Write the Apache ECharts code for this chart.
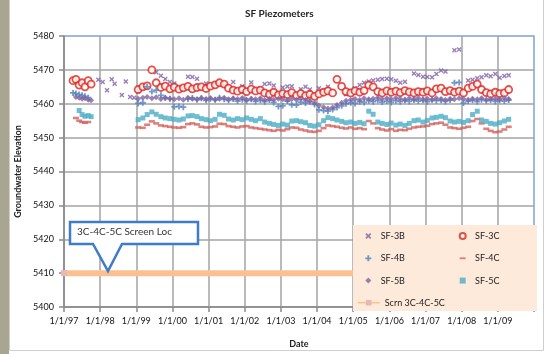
<!DOCTYPE html>
<html>
<head>
<meta charset="utf-8">
<script src="https://cdn.jsdelivr.net/npm/echarts@6/dist/echarts.min.js"></script>
<style>
  html, body { margin: 0; padding: 0; background: #fff; }
  #chart { width: 549px; height: 354px; }
</style>
</head>
<body>
<div id="chart"></div>
<script>
// Observation dates as decimal years (shared by all piezometers; null = no reading)
const obsYear = [
  1997.25, 1997.33, 1997.42, 1997.50, 1997.58, 1997.67, 1997.75,
  1997.95, 1998.07, 1998.19, 1998.32, 1998.40, 1998.60, 1998.71, 1998.83, 1998.94,
  1999.05, 1999.18, 1999.30, 1999.43, 1999.55, 1999.68, 1999.80, 1999.93,
  2000.05, 2000.18, 2000.30, 2000.43, 2000.55, 2000.68, 2000.80, 2000.93,
  2001.05, 2001.18, 2001.30, 2001.43, 2001.55, 2001.68, 2001.80, 2001.93,
  2002.05, 2002.18, 2002.30, 2002.43, 2002.55, 2002.68, 2002.80, 2002.93,
  2003.05, 2003.18, 2003.30, 2003.43, 2003.55, 2003.68, 2003.80, 2003.93,
  2004.05, 2004.18, 2004.30, 2004.43, 2004.55, 2004.68, 2004.80, 2004.93,
  2005.05, 2005.18, 2005.30, 2005.43, 2005.55, 2005.68, 2005.80, 2005.93,
  2006.05, 2006.18, 2006.30, 2006.43, 2006.55, 2006.68, 2006.80, 2006.93,
  2007.05, 2007.18, 2007.30, 2007.43, 2007.55, 2007.68, 2007.80, 2007.93,
  2008.05, 2008.18, 2008.30, 2008.43, 2008.55, 2008.68, 2008.80, 2008.93,
  2009.05, 2009.18, 2009.30
];

const sf3B = [
  null, null, null, null, null, null, null,
  5467.1, 5466.4, 5464.0, 5467.2, 5465.9, 5462.6, 5466.6, 5462.0, 5461.8,
  5463.8, null, null, null, 5469.3, 5468.3, 5467.3, 5466.4,
  5466.0, null, null, 5468.0, 5467.9, 5467.4, null, 5466.0,
  null, 5466.0, null, 5465.5, null, 5466.4, null, 5465.2,
  null, 5466.3, null, 5464.5, 5465.8, 5466.0, 5465.4, null,
  5464.8, 5465.1, 5465.2, null, 5464.3, 5465.0, 5464.2, null,
  5464.6, null, 5465.0, null, null, null, 5462.8, 5463.6,
  5464.6, 5465.5, 5466.2, 5466.6, 5466.9, 5467.1, 5467.3, 5467.4,
  5467.2, 5466.8, 5466.2, 5466.5, null, 5468.9, 5468.5, 5468.0,
  5467.9, 5467.8, 5468.8, 5469.8, 5469.5, null, 5475.8, 5476.0,
  null, 5466.9, 5467.1, 5467.5, 5467.8, 5468.4, 5468.1, 5468.8,
  5467.7, 5468.2, 5468.4
];

const sf3C = [
  5466.8, 5467.2, 5465.5, 5466.2, 5465.0, 5466.8, 5465.8,
  null, null, null, null, null, null, null, null, null,
  5464.2, 5465.0, 5465.3, 5470.0, 5466.2, 5464.8, 5465.2, 5464.4,
  5464.9, 5464.3, 5464.7, 5465.1, 5464.4, 5464.8, 5465.0, 5464.5,
  5465.2, 5465.6, 5466.2, 5465.8, 5464.6, 5464.0, 5463.7, 5464.2,
  5463.6, 5464.3, 5463.8, 5464.0, 5463.2, 5462.8, 5463.4, 5462.6,
  5463.0, 5462.7, 5463.3, 5462.5, 5463.0, 5462.4, 5462.8, 5462.2,
  5462.9, 5463.4, 5463.8, 5463.2, 5467.2, 5465.1, 5463.6, 5463.2,
  5463.8, 5463.4, 5463.9, 5465.5, 5465.0, 5463.6, 5463.2, 5463.8,
  5463.4, 5463.7, 5463.3, 5463.9, 5463.5, 5463.2, 5463.6, 5463.4,
  5463.8, 5463.2, 5464.4, 5464.6, 5463.6, 5463.9, 5463.4, 5463.7,
  5463.2, 5464.6, 5465.1, 5465.8, 5464.2, 5463.3, 5462.9, 5463.4,
  5463.0, 5463.2, 5464.2
];

const sf4B = [
  5463.2, 5463.0, 5462.7, 5462.5, 5462.2, 5461.8, null,
  null, null, null, null, null, null, null, null, null,
  5460.1, 5460.3, 5465.0, 5463.6, 5464.0, 5462.5, 5461.8, 5461.5,
  5459.1, 5459.2, 5459.0, 5461.4, 5461.7, 5461.2, 5461.6, 5461.0,
  5461.5, 5461.2, 5461.8, 5461.3, 5461.0, 5461.4, 5460.8, 5461.2,
  5460.9, 5461.3, 5460.7, 5461.0, 5460.6, 5461.1, 5460.4, 5459.2,
  5459.4, 5460.8, 5459.7, 5459.6, 5460.5, 5460.2, 5460.6, 5459.8,
  5458.2, 5458.0, 5457.8, 5458.3, 5458.9, 5459.4, 5460.0, 5460.3,
  5460.1, 5460.6, 5460.4, 5460.9, 5460.6, 5461.0, 5460.5, 5460.8,
  5460.4, 5460.9, 5460.6, 5461.0, 5460.7, 5461.1, 5460.8, 5461.0,
  5460.6, 5461.2, 5460.9, 5461.0, 5460.7, 5461.1, 5466.2, 5466.3,
  5460.2, 5460.8, 5461.0, 5460.6, 5461.2, 5460.9, 5461.1, 5460.7,
  5461.0, 5460.8, 5461.1
];

const sf4C = [
  null, 5455.8, 5455.0, 5454.6, 5454.4, 5454.6, null,
  null, null, null, null, null, null, null, null, null,
  5453.0, 5452.9, 5453.8, 5454.8, 5454.2, 5453.6, 5453.4, 5453.2,
  5453.0, 5452.9, 5453.1, 5454.0, 5454.2, 5453.9, 5453.2, 5453.0,
  5453.1, 5453.3, 5454.1, 5454.0, 5453.4, 5453.2, 5453.0, 5453.3,
  5453.4, 5453.0, 5452.8, 5452.6, 5452.4, 5452.2, 5452.0, 5452.3,
  5452.1, 5452.5, 5453.0, 5452.9, 5452.4, 5452.1, 5451.8, 5451.7,
  5452.0, 5452.8, 5453.6, 5453.4, 5453.2, 5452.9, 5452.7, 5453.0,
  5452.6, 5452.8, 5452.5, 5454.9, 5454.2, 5452.8, 5452.4, 5452.1,
  5452.5, 5452.0, 5452.3, 5452.2, 5452.6, 5453.0, 5453.2, 5453.3,
  5453.5, 5454.0, 5454.2, 5454.4, 5453.8, 5453.0, 5452.8, 5452.6,
  5452.9, 5453.2, 5454.9, 5455.5, 5454.2, 5452.6, 5452.0, 5451.6,
  5451.8, 5452.4, 5453.2
];

const sf5B = [
  null, 5462.0, 5461.8, 5461.5, 5461.6, 5461.2, 5461.0,
  null, null, null, null, null, null, null, null, null,
  5461.5, 5461.8, 5462.0, 5461.6, 5461.9, 5461.4, 5461.7, 5461.5,
  5461.3, 5461.6, 5461.2, 5461.8, 5461.5, 5461.3, 5461.7, 5461.4,
  5461.6, 5461.2, 5461.5, 5461.8, 5461.3, 5461.6, 5461.4, 5461.7,
  5461.2, 5461.5, 5461.3, 5461.6, 5461.1, 5461.4, 5461.2, 5461.5,
  5461.3, 5461.0, 5461.4, 5461.2, 5461.5, 5461.1, 5460.8, 5460.2,
  5459.5, 5459.0, 5458.6, 5458.9, 5459.6, 5460.3, 5460.9, 5461.2,
  5461.4, 5461.1, 5461.6, 5461.3, 5461.5, 5461.8, 5461.4, 5461.6,
  5461.3, 5461.7, 5461.5, 5461.2, 5461.6, 5461.4, 5461.7, 5461.3,
  5461.5, 5461.2, 5461.6, 5461.4, 5461.1, 5461.5, 5461.3, 5461.6,
  5461.4, 5461.2, 5461.5, 5461.3, 5461.6, 5461.2, 5461.4, 5461.5,
  5461.3, 5461.6, 5461.4
];

const sf5C = [
  null, null, 5458.0, 5456.8, 5456.3, 5456.5, 5456.2,
  null, null, null, null, null, null, null, null, null,
  5455.3, 5455.8, 5456.8, 5457.6, 5456.9, 5456.2, 5455.8, 5455.6,
  5455.4, 5455.2, 5455.5, 5456.4, 5456.5, 5456.2, 5455.6, 5455.3,
  5455.0, 5455.4, 5456.9, 5456.6, 5455.5, 5455.2, 5455.6, 5455.3,
  5455.8, 5455.4, 5455.0, 5455.6, 5454.6, 5454.2, 5453.9, 5453.6,
  5454.0, 5453.7, 5454.9, 5455.0, 5454.7, 5454.4, 5453.6, 5453.4,
  5453.8, 5455.0, 5455.9, 5455.6, 5455.2, 5454.8, 5454.4, 5454.6,
  5454.2, 5454.5, 5454.1, 5457.8, 5456.9, 5454.6, 5454.2, 5453.9,
  5454.3, 5453.7, 5454.0, 5453.6, 5454.2, 5455.0, 5455.2, 5454.6,
  5455.1, 5455.8, 5456.0, 5456.3, 5455.9, 5454.9, 5454.6, 5454.8,
  5454.5, 5455.0, 5456.8, 5457.8, 5455.2, 5454.8, 5454.2, 5454.0,
  5454.4, 5454.9, 5455.4
];

// Screen interval elevation for 3C/4C/5C
const screenYears = [1997, 2010];
const screenElev = [5410, 5410];

// Axis ranges
const yearRange = [1997, 2010];
const elevRange = [5400, 5480];

const FONT = 'Lato, "Liberation Sans", Arial, sans-serif';

const SYM_X = 'path://M0,2L2,0L5,3L8,0L10,2L7,5L10,8L8,10L5,7L2,10L0,8L3,5Z';
const SYM_PLUS = 'path://M3.5,0H6.5V3.5H10V6.5H6.5V10H3.5V6.5H0V3.5H3.5Z';
const SYM_DIAMOND = 'path://M5,0L10,5L5,10L0,5Z';
const SYM_SQUARE = 'path://M0,0H10V10H0Z';
const SYM_DASH = 'path://M0,0L0,0M0,3.5H10V6.5H0ZM10,10L10,10';

function pairs(xs, ys) {
  const out = [];
  for (let i = 0; i < xs.length; i++) {
    if (ys[i] !== null && ys[i] !== undefined) out.push([xs[i], ys[i]]);
  }
  return out;
}

function scatter(name, values, symbol, size, style) {
  return {
    name: name,
    type: 'scatter',
    data: pairs(obsYear, values),
    symbol: symbol,
    symbolSize: size,
    itemStyle: style,
    emphasis: { disabled: true },
    z: 2
  };
}

const chart = echarts.init(document.getElementById('chart'), null, { renderer: 'canvas' });

const legendText = { fontSize: 9, lineHeight: 12, color: '#222', fontFamily: FONT, padding: [0, 0, 0, 4.4] };

chart.setOption({
  animation: false,
  backgroundColor: '#fff',
  title: {
    text: 'SF Piezometers',
    left: 245,
    top: 9,
    padding: 0,
    textStyle: { fontSize: 10, fontWeight: 'bold', color: '#222', fontFamily: FONT }
  },
  grid: {
    left: 64, top: 36, width: 470, height: 277,
    show: true,
    borderColor: '#7fa3d4',
    borderWidth: 1.5,
    backgroundColor: 'transparent'
  },
  xAxis: {
    type: 'value',
    min: yearRange[0], max: yearRange[1], interval: 1,
    name: 'Date',
    nameLocation: 'middle',
    nameGap: 33,
    nameTextStyle: { fontSize: 9, fontWeight: 'bold', color: '#222', fontFamily: FONT },
    axisLine: { show: true, onZero: false, lineStyle: { color: '#8a8a8a', width: 1.5 } },
    axisTick: { show: true, length: 5, lineStyle: { color: '#8a8a8a', width: 1.5 } },
    axisLabel: {
      margin: 10, fontSize: 9, color: '#111', fontFamily: FONT,
      formatter: v => (v >= yearRange[1] ? '' : '1/1/' + String(v).slice(2))
    },
    splitLine: { show: true, showMaxLine: false, lineStyle: { color: '#a3a3a3', width: 1.5 } }
  },
  yAxis: {
    type: 'value',
    min: elevRange[0], max: elevRange[1], interval: 10,
    name: 'Groundwater Elevation',
    nameLocation: 'middle',
    nameRotate: 90,
    nameGap: 41,
    nameTextStyle: { fontSize: 9, fontWeight: 'bold', color: '#222', fontFamily: FONT },
    axisLine: { show: true, lineStyle: { color: '#8a8a8a', width: 1.5 } },
    axisTick: { show: true, length: 5, lineStyle: { color: '#8a8a8a', width: 1.5 } },
    axisLabel: { margin: 10, fontSize: 9, color: '#111', fontFamily: FONT, formatter: v => String(v) },
    splitLine: { show: true, showMaxLine: false, lineStyle: { color: '#a3a3a3', width: 1.5 } }
  },
  legend: [
    {
      data: ['SF-3B', 'SF-4B', 'SF-5B'],
      orient: 'vertical', left: 365.3, top: 230, padding: 0,
      itemWidth: 6, itemHeight: 6, itemGap: 10.3,
      selectedMode: false, textStyle: legendText, z: 10
    },
    {
      data: ['SF-3C', { name: 'SF-4C', icon: SYM_DASH }, 'SF-5C'],
      orient: 'vertical', left: 458.7, top: 230, padding: 0,
      itemWidth: 6, itemHeight: 6, itemGap: 10.3,
      selectedMode: false, textStyle: legendText, z: 10
    },
    {
      data: ['Scrn 3C-4C-5C'],
      orient: 'vertical', left: 357, top: 296.7, padding: 0,
      itemWidth: 22, itemHeight: 7,
      lineStyle: { width: 1.5 },
      selectedMode: false, textStyle: Object.assign({}, legendText, { padding: [0, 0, 0, 0] }), z: 10
    }
  ],
  graphic: [
    // weathered strip along the left edge and the chart frame
    { type: 'rect', z: 1, shape: { x: 0, y: 0, width: 9, height: 354 }, style: { fill: '#a8a690' } },
    { type: 'line', z: 1, shape: { x1: 9.5, y1: 0, x2: 9.5, y2: 350 }, style: { stroke: '#cfcfc8', lineWidth: 1 } },
    { type: 'line', z: 1, shape: { x1: 9.5, y1: 350.5, x2: 543.5, y2: 350.5 }, style: { stroke: '#cfcfcf', lineWidth: 1 } },
    { type: 'line', z: 1, shape: { x1: 543.5, y1: 0, x2: 543.5, y2: 350.5 }, style: { stroke: '#cfcfcf', lineWidth: 1 } },
    // legend panel
    { type: 'rect', z: 5, shape: { x: 353, y: 225, width: 184, height: 86 }, style: { fill: '#fdeada' } },
    // callout pointing at the screen line
    {
      type: 'polygon', z: 5,
      shape: { points: [[70, 222], [198, 222], [198, 244], [122, 244], [108, 271], [93, 244], [70, 244]] },
      style: { fill: '#fff', stroke: '#3f7bc6', lineWidth: 2.5, lineJoin: 'miter' }
    },
    {
      type: 'text', z: 6, left: 77, top: 227,
      style: { text: '3C-4C-5C Screen Loc', fontSize: 10, fontFamily: FONT, fill: '#333' }
    }
  ],
  series: [
    scatter('SF-3B', sf3B, SYM_X, 5, { color: '#7f5fa6' }),
    scatter('SF-3C', sf3C, 'circle', 7, { color: '#ffffff', borderColor: '#e2231a', borderWidth: 1.8 }),
    scatter('SF-4B', sf4B, SYM_PLUS, 6, { color: '#4f81bd' }),
    scatter('SF-4C', sf4C, 'rect', [6, 2.6], { color: '#d3625e' }),
    scatter('SF-5B', sf5B, SYM_DIAMOND, 6, { color: '#8064a2' }),
    scatter('SF-5C', sf5C, SYM_SQUARE, 5, { color: '#4bacc6' }),
    {
      name: 'Scrn 3C-4C-5C',
      type: 'line',
      data: pairs(screenYears, screenElev),
      symbol: 'rect',
      symbolSize: 6,
      showAllSymbol: true,
      itemStyle: { color: '#e6b9b8' },
      lineStyle: { color: '#fac090', width: 6 },
      emphasis: { disabled: true },
      z: 2
    }
  ]
});
</script>
</body>
</html>
